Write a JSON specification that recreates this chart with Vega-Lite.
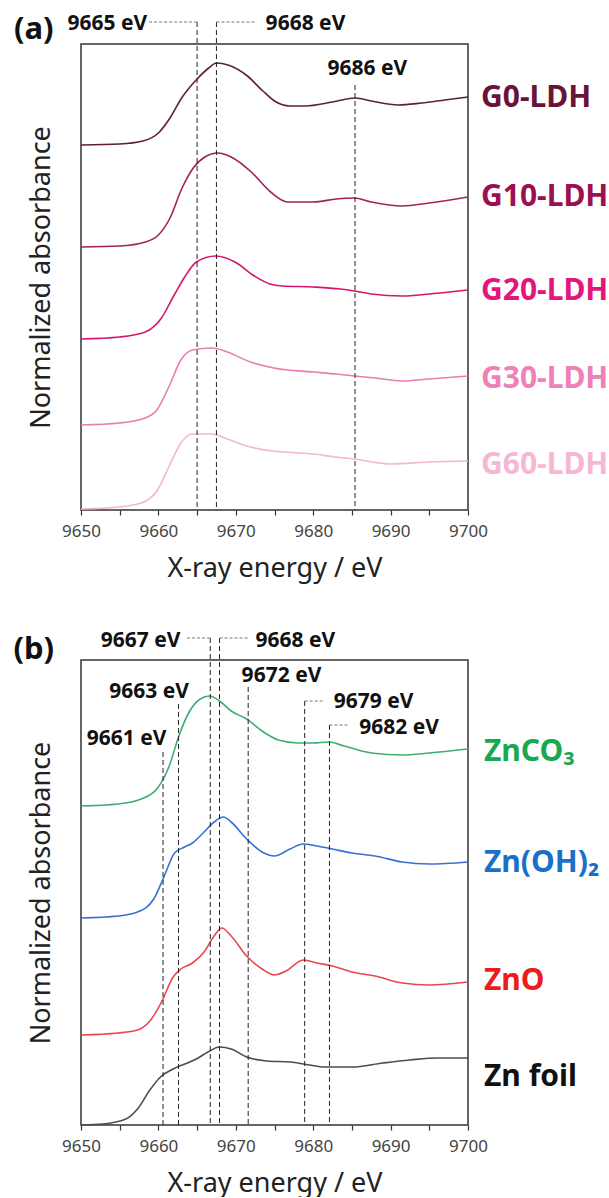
{
  "$schema": "https://vega.github.io/schema/vega-lite/v6.json",
  "background": "white",
  "padding": {"left": 12, "top": 12, "right": 0, "bottom": 0},
  "bounds": "flush",
  "spacing": 150,
  "config": {
    "font": "Noto Sans",
    "view": {"stroke": "#333333", "strokeWidth": 1.5}
  },
  "resolve": {"scale": {"color": "independent", "x": "independent", "y": "independent"}},
  "datasets": {
    "curvesA": [
      {"sample": "G0-LDH", "energy": 9650, "absorbance": 3.65},
      {"sample": "G0-LDH", "energy": 9655, "absorbance": 3.66},
      {"sample": "G0-LDH", "energy": 9658, "absorbance": 3.69},
      {"sample": "G0-LDH", "energy": 9660, "absorbance": 3.77},
      {"sample": "G0-LDH", "energy": 9661.5, "absorbance": 3.92},
      {"sample": "G0-LDH", "energy": 9663, "absorbance": 4.12},
      {"sample": "G0-LDH", "energy": 9665, "absorbance": 4.31},
      {"sample": "G0-LDH", "energy": 9666.5, "absorbance": 4.42},
      {"sample": "G0-LDH", "energy": 9667.5, "absorbance": 4.47},
      {"sample": "G0-LDH", "energy": 9669, "absorbance": 4.45},
      {"sample": "G0-LDH", "energy": 9671.5, "absorbance": 4.34},
      {"sample": "G0-LDH", "energy": 9673.5, "absorbance": 4.19},
      {"sample": "G0-LDH", "energy": 9675, "absorbance": 4.09},
      {"sample": "G0-LDH", "energy": 9677, "absorbance": 4.04},
      {"sample": "G0-LDH", "energy": 9679, "absorbance": 4.04},
      {"sample": "G0-LDH", "energy": 9682.5, "absorbance": 4.08},
      {"sample": "G0-LDH", "energy": 9685.5, "absorbance": 4.12},
      {"sample": "G0-LDH", "energy": 9687.5, "absorbance": 4.09},
      {"sample": "G0-LDH", "energy": 9691, "absorbance": 4.05},
      {"sample": "G0-LDH", "energy": 9694, "absorbance": 4.07},
      {"sample": "G0-LDH", "energy": 9697, "absorbance": 4.10},
      {"sample": "G0-LDH", "energy": 9700, "absorbance": 4.13},
      {"sample": "G10-LDH", "energy": 9650, "absorbance": 2.63},
      {"sample": "G10-LDH", "energy": 9655, "absorbance": 2.64},
      {"sample": "G10-LDH", "energy": 9658.3, "absorbance": 2.68},
      {"sample": "G10-LDH", "energy": 9660, "absorbance": 2.75},
      {"sample": "G10-LDH", "energy": 9661.5, "absorbance": 2.92},
      {"sample": "G10-LDH", "energy": 9663, "absorbance": 3.21},
      {"sample": "G10-LDH", "energy": 9664.5, "absorbance": 3.42},
      {"sample": "G10-LDH", "energy": 9666, "absorbance": 3.53},
      {"sample": "G10-LDH", "energy": 9667.7, "absorbance": 3.57},
      {"sample": "G10-LDH", "energy": 9669.4, "absorbance": 3.53},
      {"sample": "G10-LDH", "energy": 9672, "absorbance": 3.38},
      {"sample": "G10-LDH", "energy": 9674.5, "absorbance": 3.18},
      {"sample": "G10-LDH", "energy": 9676.7, "absorbance": 3.08},
      {"sample": "G10-LDH", "energy": 9680, "absorbance": 3.08},
      {"sample": "G10-LDH", "energy": 9683, "absorbance": 3.11},
      {"sample": "G10-LDH", "energy": 9685.3, "absorbance": 3.12},
      {"sample": "G10-LDH", "energy": 9687.5, "absorbance": 3.08},
      {"sample": "G10-LDH", "energy": 9691.5, "absorbance": 3.04},
      {"sample": "G10-LDH", "energy": 9695, "absorbance": 3.07},
      {"sample": "G10-LDH", "energy": 9700, "absorbance": 3.13},
      {"sample": "G20-LDH", "energy": 9650, "absorbance": 1.71},
      {"sample": "G20-LDH", "energy": 9655, "absorbance": 1.73},
      {"sample": "G20-LDH", "energy": 9658.3, "absorbance": 1.78},
      {"sample": "G20-LDH", "energy": 9660.4, "absorbance": 1.92},
      {"sample": "G20-LDH", "energy": 9661.9, "absorbance": 2.13},
      {"sample": "G20-LDH", "energy": 9663.4, "absorbance": 2.33},
      {"sample": "G20-LDH", "energy": 9664.9, "absorbance": 2.48},
      {"sample": "G20-LDH", "energy": 9667.4, "absorbance": 2.54},
      {"sample": "G20-LDH", "energy": 9669.9, "absorbance": 2.48},
      {"sample": "G20-LDH", "energy": 9672.4, "absorbance": 2.34},
      {"sample": "G20-LDH", "energy": 9674.4, "absorbance": 2.26},
      {"sample": "G20-LDH", "energy": 9676, "absorbance": 2.24},
      {"sample": "G20-LDH", "energy": 9680, "absorbance": 2.23},
      {"sample": "G20-LDH", "energy": 9683.5, "absorbance": 2.21},
      {"sample": "G20-LDH", "energy": 9685.3, "absorbance": 2.19},
      {"sample": "G20-LDH", "energy": 9687.5, "absorbance": 2.16},
      {"sample": "G20-LDH", "energy": 9691.5, "absorbance": 2.14},
      {"sample": "G20-LDH", "energy": 9695, "absorbance": 2.16},
      {"sample": "G20-LDH", "energy": 9700, "absorbance": 2.20},
      {"sample": "G30-LDH", "energy": 9650, "absorbance": 0.85},
      {"sample": "G30-LDH", "energy": 9655, "absorbance": 0.87},
      {"sample": "G30-LDH", "energy": 9658.3, "absorbance": 0.92},
      {"sample": "G30-LDH", "energy": 9659.8, "absorbance": 1.00},
      {"sample": "G30-LDH", "energy": 9661.4, "absorbance": 1.24},
      {"sample": "G30-LDH", "energy": 9662.9, "absorbance": 1.50},
      {"sample": "G30-LDH", "energy": 9664.4, "absorbance": 1.60},
      {"sample": "G30-LDH", "energy": 9666.9, "absorbance": 1.62},
      {"sample": "G30-LDH", "energy": 9668.9, "absorbance": 1.58},
      {"sample": "G30-LDH", "energy": 9671.9, "absorbance": 1.48},
      {"sample": "G30-LDH", "energy": 9674.9, "absorbance": 1.42},
      {"sample": "G30-LDH", "energy": 9680, "absorbance": 1.38},
      {"sample": "G30-LDH", "energy": 9682.9, "absorbance": 1.36},
      {"sample": "G30-LDH", "energy": 9685.3, "absorbance": 1.34},
      {"sample": "G30-LDH", "energy": 9688, "absorbance": 1.32},
      {"sample": "G30-LDH", "energy": 9691.5, "absorbance": 1.29},
      {"sample": "G30-LDH", "energy": 9695, "absorbance": 1.31},
      {"sample": "G30-LDH", "energy": 9700, "absorbance": 1.34},
      {"sample": "G60-LDH", "energy": 9650, "absorbance": 0.01},
      {"sample": "G60-LDH", "energy": 9654.8, "absorbance": 0.03},
      {"sample": "G60-LDH", "energy": 9657.8, "absorbance": 0.07},
      {"sample": "G60-LDH", "energy": 9659.8, "absorbance": 0.19},
      {"sample": "G60-LDH", "energy": 9661.4, "absorbance": 0.44},
      {"sample": "G60-LDH", "energy": 9662.9, "absorbance": 0.67},
      {"sample": "G60-LDH", "energy": 9664.4, "absorbance": 0.76},
      {"sample": "G60-LDH", "energy": 9666.9, "absorbance": 0.76},
      {"sample": "G60-LDH", "energy": 9668.9, "absorbance": 0.71},
      {"sample": "G60-LDH", "energy": 9671.9, "absorbance": 0.63},
      {"sample": "G60-LDH", "energy": 9674.9, "absorbance": 0.59},
      {"sample": "G60-LDH", "energy": 9680, "absorbance": 0.56},
      {"sample": "G60-LDH", "energy": 9682.9, "absorbance": 0.53},
      {"sample": "G60-LDH", "energy": 9685.3, "absorbance": 0.51},
      {"sample": "G60-LDH", "energy": 9690, "absorbance": 0.46},
      {"sample": "G60-LDH", "energy": 9695, "absorbance": 0.48},
      {"sample": "G60-LDH", "energy": 9700, "absorbance": 0.49}
    ],
    "labelsA": [
      {"sample": "G0-LDH", "energy": 9700, "absorbance": 4.12},
      {"sample": "G10-LDH", "energy": 9700, "absorbance": 3.13},
      {"sample": "G20-LDH", "energy": 9700, "absorbance": 2.19},
      {"sample": "G30-LDH", "energy": 9700, "absorbance": 1.31},
      {"sample": "G60-LDH", "energy": 9700, "absorbance": 0.45}
    ],
    "vlinesA": [
      {"energy": 9665, "absorbance": 4.88},
      {"energy": 9667.5, "absorbance": 4.88},
      {"energy": 9685.4, "absorbance": 4.25}
    ],
    "hlinesA": [
      {"energy": 9658.8, "to": 9665, "absorbance": 4.88},
      {"energy": 9667.5, "to": 9672.7, "absorbance": 4.88}
    ],
    "notesA": [
      {"note": "9665 eV", "energy": 9653.4, "absorbance": 4.86},
      {"note": "9668 eV", "energy": 9679.0, "absorbance": 4.86},
      {"note": "9686 eV", "energy": 9687.0, "absorbance": 4.41},
      {"note": "(a)", "energy": 9643.9, "absorbance": 4.80}
    ],
    "curvesB": [
      {"sample": "ZnCO3", "energy": 9650, "absorbance": 3.19},
      {"sample": "ZnCO3", "energy": 9654.8, "absorbance": 3.21},
      {"sample": "ZnCO3", "energy": 9657.8, "absorbance": 3.26},
      {"sample": "ZnCO3", "energy": 9659.9, "absorbance": 3.37},
      {"sample": "ZnCO3", "energy": 9661.4, "absorbance": 3.59},
      {"sample": "ZnCO3", "energy": 9662.6, "absorbance": 3.88},
      {"sample": "ZnCO3", "energy": 9663.9, "absorbance": 4.12},
      {"sample": "ZnCO3", "energy": 9665.4, "absorbance": 4.26},
      {"sample": "ZnCO3", "energy": 9666.6, "absorbance": 4.29},
      {"sample": "ZnCO3", "energy": 9667.9, "absorbance": 4.24},
      {"sample": "ZnCO3", "energy": 9669.4, "absorbance": 4.14},
      {"sample": "ZnCO3", "energy": 9671.4, "absorbance": 4.06},
      {"sample": "ZnCO3", "energy": 9673.4, "absorbance": 3.94},
      {"sample": "ZnCO3", "energy": 9675.5, "absorbance": 3.85},
      {"sample": "ZnCO3", "energy": 9678, "absorbance": 3.82},
      {"sample": "ZnCO3", "energy": 9680, "absorbance": 3.82},
      {"sample": "ZnCO3", "energy": 9682, "absorbance": 3.83},
      {"sample": "ZnCO3", "energy": 9684, "absorbance": 3.79},
      {"sample": "ZnCO3", "energy": 9687.5, "absorbance": 3.72},
      {"sample": "ZnCO3", "energy": 9691.5, "absorbance": 3.70},
      {"sample": "ZnCO3", "energy": 9695, "absorbance": 3.72},
      {"sample": "ZnCO3", "energy": 9700, "absorbance": 3.76},
      {"sample": "Zn(OH)2", "energy": 9650, "absorbance": 2.07},
      {"sample": "Zn(OH)2", "energy": 9654.8, "absorbance": 2.09},
      {"sample": "Zn(OH)2", "energy": 9657.3, "absorbance": 2.13},
      {"sample": "Zn(OH)2", "energy": 9659.4, "absorbance": 2.26},
      {"sample": "Zn(OH)2", "energy": 9660.6, "absorbance": 2.46},
      {"sample": "Zn(OH)2", "energy": 9662.1, "absorbance": 2.72},
      {"sample": "Zn(OH)2", "energy": 9663.4, "absorbance": 2.78},
      {"sample": "Zn(OH)2", "energy": 9664.4, "absorbance": 2.82},
      {"sample": "Zn(OH)2", "energy": 9665.9, "absorbance": 2.93},
      {"sample": "Zn(OH)2", "energy": 9667.2, "absorbance": 3.03},
      {"sample": "Zn(OH)2", "energy": 9668.4, "absorbance": 3.08},
      {"sample": "Zn(OH)2", "energy": 9669.4, "absorbance": 3.03},
      {"sample": "Zn(OH)2", "energy": 9671.4, "absorbance": 2.86},
      {"sample": "Zn(OH)2", "energy": 9673.4, "absorbance": 2.73},
      {"sample": "Zn(OH)2", "energy": 9675, "absorbance": 2.69},
      {"sample": "Zn(OH)2", "energy": 9677, "absorbance": 2.76},
      {"sample": "Zn(OH)2", "energy": 9678.7, "absorbance": 2.81},
      {"sample": "Zn(OH)2", "energy": 9680.5, "absorbance": 2.79},
      {"sample": "Zn(OH)2", "energy": 9682.5, "absorbance": 2.76},
      {"sample": "Zn(OH)2", "energy": 9685, "absorbance": 2.72},
      {"sample": "Zn(OH)2", "energy": 9688, "absorbance": 2.69},
      {"sample": "Zn(OH)2", "energy": 9691.5, "absorbance": 2.63},
      {"sample": "Zn(OH)2", "energy": 9695, "absorbance": 2.61},
      {"sample": "Zn(OH)2", "energy": 9700, "absorbance": 2.63},
      {"sample": "ZnO", "energy": 9650, "absorbance": 0.90},
      {"sample": "ZnO", "energy": 9654.8, "absorbance": 0.92},
      {"sample": "ZnO", "energy": 9657.3, "absorbance": 0.95},
      {"sample": "ZnO", "energy": 9658.9, "absorbance": 1.04},
      {"sample": "ZnO", "energy": 9660.4, "absorbance": 1.23},
      {"sample": "ZnO", "energy": 9661.9, "absorbance": 1.48},
      {"sample": "ZnO", "energy": 9662.9, "absorbance": 1.56},
      {"sample": "ZnO", "energy": 9664.4, "absorbance": 1.62},
      {"sample": "ZnO", "energy": 9665.9, "absorbance": 1.73},
      {"sample": "ZnO", "energy": 9667.2, "absorbance": 1.89},
      {"sample": "ZnO", "energy": 9668.2, "absorbance": 1.97},
      {"sample": "ZnO", "energy": 9669.4, "absorbance": 1.89},
      {"sample": "ZnO", "energy": 9671.4, "absorbance": 1.69},
      {"sample": "ZnO", "energy": 9673.4, "absorbance": 1.56},
      {"sample": "ZnO", "energy": 9675, "absorbance": 1.50},
      {"sample": "ZnO", "energy": 9676.5, "absorbance": 1.54},
      {"sample": "ZnO", "energy": 9678.7, "absorbance": 1.65},
      {"sample": "ZnO", "energy": 9680.5, "absorbance": 1.62},
      {"sample": "ZnO", "energy": 9682.5, "absorbance": 1.59},
      {"sample": "ZnO", "energy": 9685, "absorbance": 1.53},
      {"sample": "ZnO", "energy": 9688, "absorbance": 1.49},
      {"sample": "ZnO", "energy": 9691.5, "absorbance": 1.42},
      {"sample": "ZnO", "energy": 9695, "absorbance": 1.40},
      {"sample": "ZnO", "energy": 9700, "absorbance": 1.43},
      {"sample": "Zn foil", "energy": 9650, "absorbance": 0.00},
      {"sample": "Zn foil", "energy": 9652.8, "absorbance": 0.01},
      {"sample": "Zn foil", "energy": 9655.8, "absorbance": 0.06},
      {"sample": "Zn foil", "energy": 9657.3, "absorbance": 0.16},
      {"sample": "Zn foil", "energy": 9658.9, "absorbance": 0.35},
      {"sample": "Zn foil", "energy": 9660.4, "absorbance": 0.49},
      {"sample": "Zn foil", "energy": 9661.9, "absorbance": 0.56},
      {"sample": "Zn foil", "energy": 9663.4, "absorbance": 0.61},
      {"sample": "Zn foil", "energy": 9664.9, "absorbance": 0.66},
      {"sample": "Zn foil", "energy": 9666.4, "absorbance": 0.73},
      {"sample": "Zn foil", "energy": 9667.9, "absorbance": 0.78},
      {"sample": "Zn foil", "energy": 9669.4, "absorbance": 0.76},
      {"sample": "Zn foil", "energy": 9671.4, "absorbance": 0.68},
      {"sample": "Zn foil", "energy": 9674, "absorbance": 0.64},
      {"sample": "Zn foil", "energy": 9677, "absorbance": 0.63},
      {"sample": "Zn foil", "energy": 9679.5, "absorbance": 0.60},
      {"sample": "Zn foil", "energy": 9681.5, "absorbance": 0.58},
      {"sample": "Zn foil", "energy": 9685, "absorbance": 0.58},
      {"sample": "Zn foil", "energy": 9689, "absorbance": 0.62},
      {"sample": "Zn foil", "energy": 9692.5, "absorbance": 0.65},
      {"sample": "Zn foil", "energy": 9696, "absorbance": 0.67},
      {"sample": "Zn foil", "energy": 9700, "absorbance": 0.67}
    ],
    "labelsB": [
      {"sample": "ZnCO₃", "energy": 9700, "absorbance": 3.73},
      {"sample": "Zn(OH)₂", "energy": 9700, "absorbance": 2.62},
      {"sample": "ZnO", "energy": 9700, "absorbance": 1.44},
      {"sample": "Zn foil", "energy": 9700, "absorbance": 0.48}
    ],
    "vlinesB": [
      {"energy": 9660.6, "absorbance": 3.73},
      {"energy": 9662.6, "absorbance": 4.21},
      {"energy": 9666.7, "absorbance": 4.87},
      {"energy": 9667.9, "absorbance": 4.87},
      {"energy": 9671.6, "absorbance": 4.38},
      {"energy": 9678.9, "absorbance": 4.24},
      {"energy": 9682.1, "absorbance": 4.00}
    ],
    "hlinesB": [
      {"energy": 9663.7, "to": 9666.7, "absorbance": 4.87},
      {"energy": 9667.9, "to": 9671.7, "absorbance": 4.87},
      {"energy": 9678.9, "to": 9681.5, "absorbance": 4.24},
      {"energy": 9682.1, "to": 9684.5, "absorbance": 4.00}
    ],
    "notesB": [
      {"note": "9661 eV", "energy": 9655.9, "absorbance": 3.86},
      {"note": "9663 eV", "energy": 9658.8, "absorbance": 4.33},
      {"note": "9667 eV", "energy": 9657.7, "absorbance": 4.84},
      {"note": "9668 eV", "energy": 9677.7, "absorbance": 4.84},
      {"note": "9672 eV", "energy": 9675.9, "absorbance": 4.49},
      {"note": "9679 eV", "energy": 9687.8, "absorbance": 4.23},
      {"note": "9682 eV", "energy": 9691.1, "absorbance": 3.97},
      {"note": "(b)", "energy": 9643.9, "absorbance": 4.75}
    ]
  },
  "vconcat": [
    {
      "width": 387,
      "height": 466,
      "resolve": {"scale": {"color": "independent"}},
      "encoding": {
        "x": {
          "field": "energy", "type": "quantitative",
          "scale": {"domain": [9650, 9700], "nice": false, "zero": false},
          "axis": {
            "title": "X-ray energy / eV", "titleFontSize": 27, "titleFontWeight": "normal", "titleColor": "#222222",
            "titleBaseline": "alphabetic", "titleX": 193.5, "titleY": 66, "titleAnchor": "middle",
            "values": [9650, 9655, 9660, 9665, 9670, 9675, 9680, 9685, 9690, 9695, 9700],
            "labelExpr": "datum.value % 10 == 0 ? format(datum.value, 'd') : ''",
            "labelFontSize": 17, "labelColor": "#444444", "labelFlush": false, "labelOverlap": false, "labelBound": false,
            "labelBaseline": "alphabetic", "labelPadding": 21,
            "tickSize": 5, "tickColor": "#333333", "tickWidth": 1.2, "domain": false, "grid": false
          }
        },
        "y": {
          "field": "absorbance", "type": "quantitative",
          "scale": {"domain": [0, 4.66], "nice": false, "zero": false},
          "axis": {
            "title": "Normalized absorbance", "titleFontSize": 27, "titleFontWeight": "normal", "titleColor": "#222222",
            "titleBaseline": "alphabetic", "titleAngle": -90, "titleX": -32, "titleY": 233, "titleAnchor": "middle",
            "labels": false, "ticks": false, "domain": false, "grid": false
          }
        }
      },
      "layer": [
        {
          "data": {"name": "curvesA"},
          "mark": {"type": "line", "interpolate": "monotone", "strokeWidth": 1.6},
          "encoding": {
            "color": {
              "field": "sample", "type": "nominal", "legend": null,
              "scale": {"domain": ["G0-LDH", "G10-LDH", "G20-LDH", "G30-LDH", "G60-LDH"],
                        "range": ["#5e1f38", "#a1225e", "#d4166c", "#e97db3", "#f4b6d1"]}
            }
          }
        },
        {
          "data": {"name": "vlinesA"},
          "mark": {"type": "rule", "color": "#222222", "strokeWidth": 1, "strokeDash": [5, 3]},
          "encoding": {"y2": {"datum": 0}}
        },
        {
          "data": {"name": "hlinesA"},
          "mark": {"type": "rule", "color": "#777777", "strokeWidth": 1, "strokeDash": [3, 2]},
          "encoding": {"x2": {"field": "to"}}
        },
        {
          "data": {"name": "notesA"},
          "mark": {"type": "text", "fontWeight": "bold", "color": "#111111", "align": "center", "baseline": "middle"},
          "encoding": {
            "text": {"field": "note"},
            "size": {"condition": {"test": "datum.note == '(a)'", "value": 31}, "value": 21}
          }
        },
        {
          "data": {"name": "labelsA"},
          "mark": {"type": "text", "fontWeight": "bold", "fontSize": 30, "align": "left", "baseline": "middle", "dx": 13},
          "encoding": {
            "text": {"field": "sample"},
            "color": {
              "field": "sample", "type": "nominal", "legend": null,
              "scale": {"domain": ["G0-LDH", "G10-LDH", "G20-LDH", "G30-LDH", "G60-LDH"],
                        "range": ["#6a1237", "#9b1050", "#e2167b", "#ef80b8", "#f5b7d3"]}
            }
          }
        }
      ]
    },
    {
      "width": 387,
      "height": 465,
      "resolve": {"scale": {"color": "independent"}},
      "encoding": {
        "x": {
          "field": "energy", "type": "quantitative",
          "scale": {"domain": [9650, 9700], "nice": false, "zero": false},
          "axis": {
            "title": "X-ray energy / eV", "titleFontSize": 27, "titleFontWeight": "normal", "titleColor": "#222222",
            "titleBaseline": "alphabetic", "titleX": 193.5, "titleY": 66, "titleAnchor": "middle",
            "values": [9650, 9655, 9660, 9665, 9670, 9675, 9680, 9685, 9690, 9695, 9700],
            "labelExpr": "datum.value % 10 == 0 ? format(datum.value, 'd') : ''",
            "labelFontSize": 17, "labelColor": "#444444", "labelFlush": false, "labelOverlap": false, "labelBound": false,
            "labelBaseline": "alphabetic", "labelPadding": 21,
            "tickSize": 5, "tickColor": "#333333", "tickWidth": 1.2, "domain": false, "grid": false
          }
        },
        "y": {
          "field": "absorbance", "type": "quantitative",
          "scale": {"domain": [0, 4.65], "nice": false, "zero": false},
          "axis": {
            "title": "Normalized absorbance", "titleFontSize": 27, "titleFontWeight": "normal", "titleColor": "#222222",
            "titleBaseline": "alphabetic", "titleAngle": -90, "titleX": -32, "titleY": 232.5, "titleAnchor": "middle",
            "labels": false, "ticks": false, "domain": false, "grid": false
          }
        }
      },
      "layer": [
        {
          "data": {"name": "curvesB"},
          "mark": {"type": "line", "interpolate": "monotone", "strokeWidth": 1.6},
          "encoding": {
            "color": {
              "field": "sample", "type": "nominal", "legend": null,
              "scale": {"domain": ["ZnCO3", "Zn(OH)2", "ZnO", "Zn foil"],
                        "range": ["#3fae72", "#3b6fd4", "#e8474f", "#4d4d4d"]}
            }
          }
        },
        {
          "data": {"name": "vlinesB"},
          "mark": {"type": "rule", "color": "#222222", "strokeWidth": 1, "strokeDash": [5, 3]},
          "encoding": {"y2": {"datum": 0}}
        },
        {
          "data": {"name": "hlinesB"},
          "mark": {"type": "rule", "color": "#777777", "strokeWidth": 1, "strokeDash": [3, 2]},
          "encoding": {"x2": {"field": "to"}}
        },
        {
          "data": {"name": "notesB"},
          "mark": {"type": "text", "fontWeight": "bold", "color": "#111111", "align": "center", "baseline": "middle"},
          "encoding": {
            "text": {"field": "note"},
            "size": {"condition": {"test": "datum.note == '(b)'", "value": 31}, "value": 21}
          }
        },
        {
          "data": {"name": "labelsB"},
          "mark": {"type": "text", "fontWeight": "bold", "fontSize": 30, "align": "left", "baseline": "middle", "dx": 16},
          "encoding": {
            "text": {"field": "sample"},
            "color": {
              "field": "sample", "type": "nominal", "legend": null,
              "scale": {"domain": ["ZnCO₃", "Zn(OH)₂", "ZnO", "Zn foil"],
                        "range": ["#18a84e", "#1a6fc9", "#ee1b1b", "#111111"]}
            }
          }
        }
      ]
    }
  ]
}
